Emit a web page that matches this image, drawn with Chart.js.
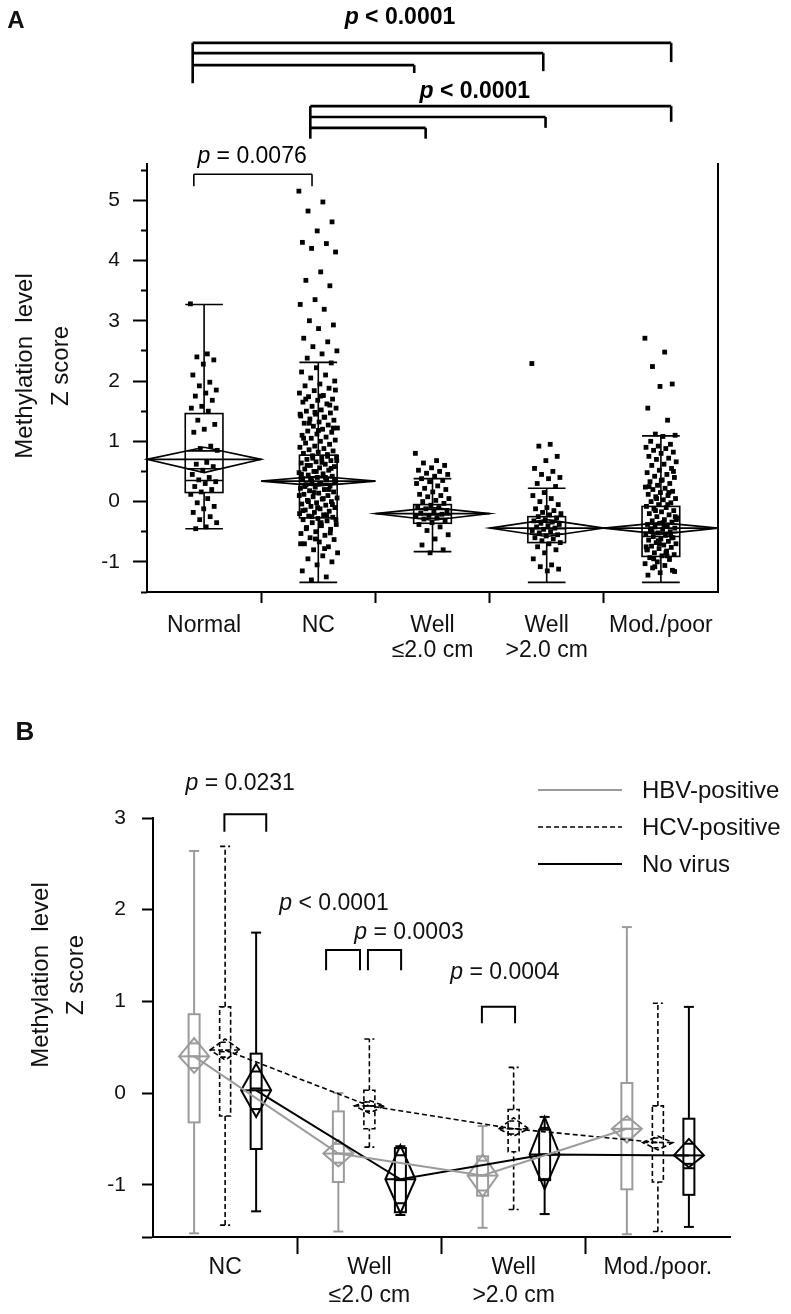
<!DOCTYPE html>
<html>
<head>
<meta charset="utf-8">
<script src="https://cdn.jsdelivr.net/npm/chart.js@4.4.0/dist/chart.umd.min.js"></script>
<style>
  html, body { margin: 0; padding: 0; background: #fff; }
  #wrap { position: relative; width: 791px; height: 1314px; }
  .panel { position: absolute; left: 0; width: 791px; }
  #panelA { top: 0; height: 680px; }
  #panelB { top: 680px; height: 634px; }
</style>
</head>
<body>
<div id="wrap">
  <div class="panel" id="panelA"><canvas id="chartA"></canvas></div>
  <div class="panel" id="panelB"><canvas id="chartB"></canvas></div>
</div>
<script>
const FONT = "'Liberation Sans', Arial, Helvetica, sans-serif";

// ---------- Panel A: methylation Z score by group ----------
const categoriesA = ['Normal', 'NC', ['Well', '≤2.0 cm'], ['Well', '>2.0 cm'], 'Mod./poor'];
const whiskerLowA = [-0.45, -1.34, -0.83, -1.34, -1.34];
const q1A = [0.15, -0.27, -0.36, -0.68, -0.91];
const medianA = [0.35, 0.30, -0.22, -0.45, -0.58];
const q3A = [1.46, 0.77, -0.05, -0.25, -0.08];
const whiskerHighA = [3.27, 2.31, 0.38, 0.22, 1.09];
const meanA = [0.70, 0.34, -0.20, -0.44, -0.44];
const ciLowA = [0.48, 0.26, -0.31, -0.58, -0.54];
const ciHighA = [0.90, 0.42, -0.10, -0.30, -0.35];
const majorTicksA = [-1, 0, 1, 2, 3, 4, 5];
const minorTicksA = [-1.5, -0.5, 0.5, 1.5, 2.5, 3.5, 4.5, 5.5];
const pLabelsA = ['p < 0.0001', 'p < 0.0001', 'p = 0.0076'];

// individual samples
const pointsNormal = [3.28, 2.45, 2.40, 2.35, 2.28, 2.10, 1.98, 1.92, 1.85, 1.80, 1.75, 1.68, 1.58, 1.55, 1.50,
  1.35, 1.28, 1.20, 1.15, 0.92, 0.88, 0.85, 0.65, 0.62, 0.58, 0.52, 0.45, 0.40, 0.36, 0.33, 0.30, 0.25, 0.20,
  0.16, 0.12, 0.05, -0.02, -0.08, -0.12, -0.18, -0.25, -0.30, -0.35, -0.42, -0.45];
const pointsNC = [5.15, 4.97, 4.82, 4.64, 4.49, 4.30, 4.28, 4.20, 4.14, 3.81, 3.67, 3.58, 3.35, 3.27, 3.19,
  3.00, 2.93, 2.87, 2.71, 2.65, 2.57, 2.50, 2.45, 2.38, 2.30, 2.22, 2.15, 2.10, 2.05, 2.00, 1.95, 1.92, 1.88,
  1.84, 1.80, 1.76, 1.74, 1.70, 1.68, 1.65, 1.62, 1.58, 1.55, 1.52, 1.50, 1.47, 1.45, 1.42, 1.40, 1.37, 1.35,
  1.32, 1.30, 1.27, 1.25, 1.22, 1.20, 1.17, 1.15, 1.12, 1.10, 1.07, 1.05, 1.02, 1.00, 0.97, 0.95, 0.92, 0.90,
  0.88, 0.86, 0.84, 0.82, 0.80, 0.78, 0.76, 0.74, 0.72, 0.70, 0.68, 0.66, 0.64, 0.62, 0.60, 0.58, 0.56, 0.54,
  0.52, 0.50, 0.48, 0.46, 0.44, 0.42, 0.40, 0.38, 0.36, 0.34, 0.32, 0.30, 0.28, 0.26, 0.24, 0.22, 0.20, 0.18,
  0.16, 0.14, 0.12, 0.10, 0.08, 0.06, 0.04, 0.02, 0.00, -0.02, -0.04, -0.06, -0.08, -0.10, -0.12, -0.14, -0.16,
  -0.18, -0.20, -0.22, -0.24, -0.26, -0.28, -0.30, -0.32, -0.35, -0.38, -0.40, -0.43, -0.46, -0.50, -0.53,
  -0.56, -0.60, -0.63, -0.67, -0.70, -0.75, -0.80, -0.85, -0.90, -0.95, -1.00, -1.05, -1.15, -1.25, -1.30,
  1.85, 1.75, 1.70, 1.60, 1.48, 1.45, 1.40, 1.30, 1.22, 1.18, 1.05, 0.75, 0.72, 0.68, 0.65, 0.60, 0.55, 0.50,
  0.45, 0.40, 0.38, 0.35, 0.30, 0.25, 0.20, 0.15, 0.10, 0.05, 0.00, -0.05, -0.10, -0.15, -0.22, -0.25, -0.30,
  -0.35, -0.45, -0.52, -0.62, -0.70, -0.78];
const pointsWellSmall = [0.80, 0.68, 0.64, 0.60, 0.56, 0.52, 0.50, 0.47, 0.45, 0.42, 0.38, 0.35, 0.33, 0.30,
  0.26, 0.22, 0.20, 0.16, 0.12, 0.10, 0.08, 0.05, 0.02, 0.00, -0.03, -0.06, -0.08, -0.10, -0.12, -0.15, -0.17,
  -0.19, -0.21, -0.23, -0.25, -0.27, -0.29, -0.32, -0.35, -0.38, -0.42, -0.48, -0.55, -0.62, -0.72, -0.80, -0.85];
const pointsWellLarge = [2.29, 0.95, 0.92, 0.75, 0.68, 0.55, 0.50, 0.45, 0.40, 0.38, 0.30, 0.25, 0.15, 0.10,
  0.05, 0.00, -0.05, -0.10, -0.12, -0.15, -0.18, -0.20, -0.22, -0.25, -0.27, -0.30, -0.32, -0.34, -0.36, -0.38,
  -0.40, -0.42, -0.44, -0.46, -0.48, -0.50, -0.52, -0.55, -0.57, -0.60, -0.62, -0.65, -0.68, -0.70, -0.75,
  -0.80, -0.85, -0.95, -1.05, -1.08, -1.12, -1.15];
const pointsModPoor = [2.71, 2.48, 2.24, 1.95, 1.91, 1.55, 1.35, 1.12, 1.10, 1.08, 1.00, 0.95, 0.92, 0.90, 0.88,
  0.85, 0.82, 0.80, 0.75, 0.72, 0.70, 0.66, 0.62, 0.60, 0.55, 0.52, 0.48, 0.45, 0.42, 0.40, 0.36, 0.33, 0.30,
  0.27, 0.24, 0.22, 0.20, 0.17, 0.15, 0.12, 0.10, 0.08, 0.05, 0.03, 0.00, -0.02, -0.05, -0.08, -0.10, -0.12,
  -0.15, -0.17, -0.20, -0.22, -0.25, -0.27, -0.30, -0.32, -0.34, -0.36, -0.38, -0.40, -0.42, -0.44, -0.46,
  -0.48, -0.50, -0.52, -0.54, -0.56, -0.58, -0.60, -0.62, -0.64, -0.66, -0.68, -0.70, -0.72, -0.74, -0.76,
  -0.78, -0.80, -0.82, -0.85, -0.88, -0.90, -0.93, -0.96, -1.00, -1.03, -1.06, -1.10, -1.14, -1.18, -1.22,
  -0.05, -0.15, -0.25, -0.35, -0.45, -0.55, -0.65, -0.75, -0.85, -0.95, 0.50, 0.35, 0.25, 0.15, 0.05, -0.30,
  -0.40, -0.50, -0.60, -0.70, -0.80, -0.90, -1.08, -1.16];

// ---------- Panel B: by virus status ----------
const categoriesB = ['NC', ['Well', '≤2.0 cm'], ['Well', '>2.0 cm'], 'Mod./poor.'];
const seriesB = ['HBV-positive', 'HCV-positive', 'No virus'];
// rows: HBV, HCV, no virus; columns: categoriesB
const whiskerLowB = [[-1.53, -1.51, -1.47, -1.54], [-1.44, -0.59, -1.27, -1.51], [-1.29, -1.33, -1.32, -1.46]];
const q1B = [[-0.32, -0.97, -1.12, -1.05], [-0.25, -0.39, -0.64, -0.97], [-0.61, -1.30, -0.95, -1.11]];
const medianB = [[0.40, -0.66, -0.90, -0.39], [0.45, -0.14, -0.39, -0.54], [0.05, -0.95, -0.67, -0.82]];
const q3B = [[0.86, -0.20, -0.69, 0.11], [0.94, 0.03, -0.18, -0.14], [0.43, -0.60, -0.40, -0.28]];
const whiskerHighB = [[2.64, 0.00, -0.36, 1.81], [2.69, 0.59, 0.28, 0.98], [1.75, -0.58, -0.26, 0.94]];
const meanB = [[0.40, -0.66, -0.90, -0.39], [0.47, -0.14, -0.39, -0.54], [0.03, -0.94, -0.67, -0.68]];
const ciLowB = [[0.22, -0.80, -1.13, -0.54], [0.36, -0.22, -0.47, -0.62], [-0.26, -1.31, -1.05, -0.81]];
const ciHighB = [[0.60, -0.51, -0.67, -0.25], [0.59, -0.08, -0.27, -0.47], [0.32, -0.57, -0.26, -0.50]];
const majorTicksB = [-1, 0, 1, 2, 3];
const pLabelsB = ['p = 0.0231', 'p < 0.0001', 'p = 0.0003', 'p = 0.0004'];

const yTitleLines = ['Methylation  level', 'Z score'];

// ---------- styling ----------
const spreadA = [0.12, 0.17, 0.15, 0.13, 0.14];     // horizontal jitter band per group
const offsetB = [-0.215, 0, 0.215];                  // position of each virus group inside a category
const colorB = ['#9b9b9b', '#000000', '#000000'];
const dashB = [[], [5, 3], []];
const widthB = [2, 1.6, 2];

function jitter(i, spread) {
  const f = (i * 0.6180339887) % 1;
  return (f - 0.5) * 2 * spread;
}

function seg(ctx, x1, y1, x2, y2) {
  ctx.beginPath(); ctx.moveTo(x1, y1); ctx.lineTo(x2, y2); ctx.stroke();
}

function pText(ctx, label, x, y, size, bold) {
  const w = bold ? 'bold ' : '';
  const fI = 'italic ' + w + size + 'px ' + FONT;
  const fN = w + size + 'px ' + FONT;
  const rest = label.slice(1);
  ctx.font = fI; const w1 = ctx.measureText('p').width;
  ctx.font = fN; const w2 = ctx.measureText(rest).width;
  const sx = x - (w1 + w2) / 2;
  ctx.textAlign = 'left'; ctx.textBaseline = 'middle';
  ctx.font = fI; ctx.fillText('p', sx, y);
  ctx.font = fN; ctx.fillText(rest, sx + w1, y);
}

function drawDiamond(ctx, cx, hw, yMean, yTop, yBot) {
  ctx.beginPath();
  ctx.moveTo(cx - hw, yMean); ctx.lineTo(cx, yTop); ctx.lineTo(cx + hw, yMean); ctx.lineTo(cx, yBot);
  ctx.closePath(); ctx.stroke();
  seg(ctx, cx - hw, yMean, cx + hw, yMean);
  const k = 1 - Math.SQRT1_2;
  const yo1 = yMean + (yTop - yMean) * Math.SQRT1_2;
  const yo2 = yMean + (yBot - yMean) * Math.SQRT1_2;
  seg(ctx, cx - hw * k, yo1, cx + hw * k, yo1);
  seg(ctx, cx - hw * k, yo2, cx + hw * k, yo2);
}

function drawBox(ctx, cx, hb, hc, p) {
  seg(ctx, cx, p.lo, cx, p.q1);
  seg(ctx, cx, p.q3, cx, p.hi);
  seg(ctx, cx - hc, p.lo, cx + hc, p.lo);
  seg(ctx, cx - hc, p.hi, cx + hc, p.hi);
  ctx.strokeRect(cx - hb, p.q3, hb * 2, p.q1 - p.q3);
  seg(ctx, cx - hb, p.med, cx + hb, p.med);
}

const yTitlePlugin = {
  id: 'yTitle',
  afterDraw(chart, args, opts) {
    const ctx = chart.ctx;
    ctx.save();
    ctx.fillStyle = '#111';
    ctx.font = '24px ' + FONT;
    ctx.textAlign = 'center'; ctx.textBaseline = 'middle';
    yTitleLines.forEach((t, i) => {
      ctx.save();
      ctx.translate(opts.x[i], opts.y);
      ctx.rotate(-Math.PI / 2);
      ctx.fillText(t, 0, 0);
      ctx.restore();
    });
    ctx.font = 'bold ' + opts.panelSize + 'px ' + FONT;
    ctx.fillText(opts.panel, opts.panelX, opts.panelY);
    ctx.restore();
  }
};

// ---------- Panel A chart ----------
const boxesA = {
  id: 'boxesA',
  afterDatasetsDraw(chart) {
    const {ctx, scales: {x, y}} = chart;
    ctx.save();
    ctx.strokeStyle = '#000';
    ctx.lineWidth = 1.6;
    categoriesA.forEach((c, i) => {
      const cx = x.getPixelForValue(i);
      const unit = x.getPixelForValue(i + 0.5) - cx;
      const hb = unit * 0.33;
      drawBox(ctx, cx, hb, hb, {
        lo: y.getPixelForValue(whiskerLowA[i]), q1: y.getPixelForValue(q1A[i]),
        med: y.getPixelForValue(medianA[i]), q3: y.getPixelForValue(q3A[i]),
        hi: y.getPixelForValue(whiskerHighA[i])
      });
      drawDiamond(ctx, cx, unit, y.getPixelForValue(meanA[i]),
        y.getPixelForValue(ciHighA[i]), y.getPixelForValue(ciLowA[i]));
    });
    ctx.restore();
  }
};

const annotateA = {
  id: 'annotateA',
  afterDraw(chart) {
    const {ctx, scales: {x, y}} = chart;
    const X = v => x.getPixelForValue(v);
    const Y = v => y.getPixelForValue(v);
    ctx.save();
    ctx.strokeStyle = '#000'; ctx.fillStyle = '#000';
    ctx.lineCap = 'butt';

    function group(xl, rights, levels, drops, bottom) {
      seg(ctx, X(xl), Y(levels[0]), X(xl), Y(bottom));
      rights.forEach((xr, k) => {
        seg(ctx, X(xl), Y(levels[k]), X(xr), Y(levels[k]));
        seg(ctx, X(xr), Y(levels[k]), X(xr), Y(drops[k]));
      });
    }
    ctx.lineWidth = 2.6;
    group(-0.1, [4.09, 2.97, 1.84], [7.61, 7.44, 7.24], [7.29, 7.14, 7.11], 6.94);
    group(0.93, [4.09, 2.99, 1.94], [6.56, 6.38, 6.20], [6.30, 6.20, 6.02], 6.02);
    pText(ctx, pLabelsA[0], X(1.715), Y(8.03), 23, true);
    pText(ctx, pLabelsA[1], X(2.37), Y(6.80), 23, true);

    ctx.lineWidth = 1.6;
    seg(ctx, X(-0.09), Y(5.23), X(-0.09), Y(5.43));
    seg(ctx, X(-0.09), Y(5.43), X(0.945), Y(5.43));
    seg(ctx, X(0.945), Y(5.43), X(0.945), Y(5.23));
    pText(ctx, pLabelsA[2], X(0.42), Y(5.72), 23, false);
    ctx.restore();
  }
};

const groupPointsA = [pointsNormal, pointsNC, pointsWellSmall, pointsWellLarge, pointsModPoor];

new Chart(document.getElementById('chartA'), {
  type: 'scatter',
  data: {
    datasets: groupPointsA.map((vals, g) => ({
      data: vals.map((v, i) => ({x: g + jitter(i, spreadA[g]), y: v})),
      pointStyle: 'rect',
      pointRadius: 3.4,
      backgroundColor: '#000',
      borderWidth: 0
    }))
  },
  options: {
    responsive: true,
    maintainAspectRatio: false,
    animation: false,
    events: [],
    layout: {padding: {left: 0, right: 73, top: 164, bottom: 0}},
    plugins: {
      legend: {display: false},
      tooltip: {enabled: false},
      yTitle: {x: [25, 61], y: 366, panel: 'A', panelX: 16, panelY: 21, panelSize: 24}
    },
    scales: {
      x: {type: 'linear', display: false, min: -0.5, max: 4.5},
      xCat: {
        type: 'category', position: 'bottom', labels: categoriesA, offset: true,
        grid: {
          display: true, drawOnChartArea: false, offset: true, tickLength: 11, tickWidth: 2,
          tickColor: c => (c.type === 'tick' && c.index > 0) ? '#000' : 'rgba(0,0,0,0)'
        },
        border: {display: true, color: '#000', width: 2},
        ticks: {
          color: '#111', padding: 11, maxRotation: 0, autoSkip: false,
          font: {family: FONT, size: 23, lineHeight: 1.05}
        },
        afterFit: s => { s.height = 88; }
      },
      y: {
        type: 'linear', position: 'left', min: -1.5, max: 5.6,
        afterBuildTicks: s => { s.ticks = majorTicksA.map(v => ({value: v})); },
        ticks: {color: '#111', padding: 13, font: {family: FONT, size: 21}, callback: v => String(v)},
        grid: {drawOnChartArea: false, tickLength: 14, tickWidth: 2, tickColor: '#000'},
        border: {display: true, color: '#000', width: 2},
        afterFit: s => { s.width = 147; }
      },
      yMinor: {
        type: 'linear', position: 'left', weight: -1, min: -1.5, max: 5.6,
        afterBuildTicks: s => { s.ticks = minorTicksA.map(v => ({value: v})); },
        ticks: {display: false},
        grid: {drawOnChartArea: false, tickLength: 6, tickWidth: 2, tickColor: '#000'},
        border: {display: false},
        afterFit: s => { s.width = 0; }
      },
      yRight: {
        type: 'linear', position: 'right', min: -1.5, max: 5.6,
        ticks: {display: false},
        grid: {display: false},
        border: {display: true, color: '#000', width: 2},
        afterFit: s => { s.width = 0; }
      }
    }
  },
  plugins: [boxesA, annotateA, yTitlePlugin]
});

// ---------- Panel B chart ----------
const boxesB = {
  id: 'boxesB',
  beforeDatasetsDraw(chart) {
    const {ctx, scales: {x, y}} = chart;
    const Y = v => y.getPixelForValue(v);
    ctx.save();
    seriesB.forEach((name, s) => {
      ctx.strokeStyle = colorB[s];
      ctx.lineWidth = widthB[s];
      ctx.setLineDash(dashB[s]);
      categoriesB.forEach((c, g) => {
        const cx = x.getPixelForValue(g + offsetB[s]);
        drawBox(ctx, cx, 5.5, 5, {
          lo: Y(whiskerLowB[s][g]), q1: Y(q1B[s][g]), med: Y(medianB[s][g]),
          q3: Y(q3B[s][g]), hi: Y(whiskerHighB[s][g])
        });
        drawDiamond(ctx, cx, 15, Y(meanB[s][g]), Y(ciHighB[s][g]), Y(ciLowB[s][g]));
      });
    });
    ctx.restore();
  }
};

const annotateB = {
  id: 'annotateB',
  afterDraw(chart) {
    const {ctx, chartArea, scales: {x, y}} = chart;
    const X = v => x.getPixelForValue(v);
    const Y = v => y.getPixelForValue(v);
    ctx.save();
    ctx.strokeStyle = '#000'; ctx.fillStyle = '#111';
    ctx.lineWidth = 2;
    function bracket(x1, x2, top, drop) {
      ctx.beginPath();
      ctx.moveTo(X(x1), Y(drop)); ctx.lineTo(X(x1), Y(top));
      ctx.lineTo(X(x2), Y(top)); ctx.lineTo(X(x2), Y(drop));
      ctx.stroke();
    }
    bracket(-0.005, 0.285, 3.04, 2.85);
    bracket(0.70, 0.935, 1.56, 1.34);
    bracket(0.99, 1.22, 1.56, 1.34);
    bracket(1.78, 2.01, 0.94, 0.76);
    pText(ctx, pLabelsB[0], X(0.104), Y(3.38), 23, false);
    pText(ctx, pLabelsB[1], X(0.755), Y(2.07), 23, false);
    pText(ctx, pLabelsB[2], X(1.275), Y(1.745), 23, false);
    pText(ctx, pLabelsB[3], X(1.94), Y(1.31), 23, false);

    // legend
    const lx = chartArea.right - 192;
    chart.data.datasets.forEach((ds, i) => {
      const ly = chartArea.top - 28 + i * 37;
      ctx.strokeStyle = ds.borderColor;
      ctx.lineWidth = ds.borderWidth;
      ctx.setLineDash(ds.borderDash);
      seg(ctx, lx, ly, lx + 84, ly);
      ctx.setLineDash([]);
      ctx.font = '24px ' + FONT;
      ctx.textAlign = 'left'; ctx.textBaseline = 'middle';
      ctx.fillText(ds.label, lx + 104, ly + 1);
    });
    ctx.restore();
  }
};

new Chart(document.getElementById('chartB'), {
  type: 'line',
  data: {
    datasets: seriesB.map((name, s) => ({
      label: name,
      data: meanB[s].map((v, g) => ({x: g + offsetB[s], y: v})),
      borderColor: colorB[s],
      borderDash: dashB[s],
      borderWidth: widthB[s],
      pointRadius: 0,
      tension: 0,
      fill: false
    }))
  },
  options: {
    responsive: true,
    maintainAspectRatio: false,
    animation: false,
    events: [],
    layout: {padding: {left: 0, right: 61, top: 138, bottom: 0}},
    plugins: {
      legend: {display: false},
      tooltip: {enabled: false},
      yTitle: {x: [41, 76], y: 295, panel: 'B', panelX: 25, panelY: 53, panelSize: 26}
    },
    scales: {
      x: {type: 'linear', display: false, min: -0.5, max: 3.5},
      xCat: {
        type: 'category', position: 'bottom', labels: categoriesB, offset: true,
        grid: {
          display: true, drawOnChartArea: false, offset: true, tickLength: 17, tickWidth: 2,
          tickColor: c => (c.type === 'tick' && c.index > 0) ? '#000' : 'rgba(0,0,0,0)'
        },
        border: {display: true, color: '#000', width: 2},
        ticks: {
          color: '#111', padding: 0, maxRotation: 0, autoSkip: false,
          font: {family: FONT, size: 23, lineHeight: 1.22}
        },
        afterFit: s => { s.height = 77; }
      },
      y: {
        type: 'linear', position: 'left', min: -1.57, max: 3,
        afterBuildTicks: s => { s.ticks = [s.min].concat(majorTicksB).map(v => ({value: v})); },
        ticks: {
          color: '#111', padding: 16, font: {family: FONT, size: 21},
          callback: v => majorTicksB.includes(v) ? String(v) : ''
        },
        grid: {drawOnChartArea: false, tickLength: 11, tickWidth: 2, tickColor: '#000'},
        border: {display: true, color: '#000', width: 2},
        afterFit: s => { s.width = 153; }
      }
    }
  },
  plugins: [boxesB, annotateB, yTitlePlugin]
});
</script>
</body>
</html>
